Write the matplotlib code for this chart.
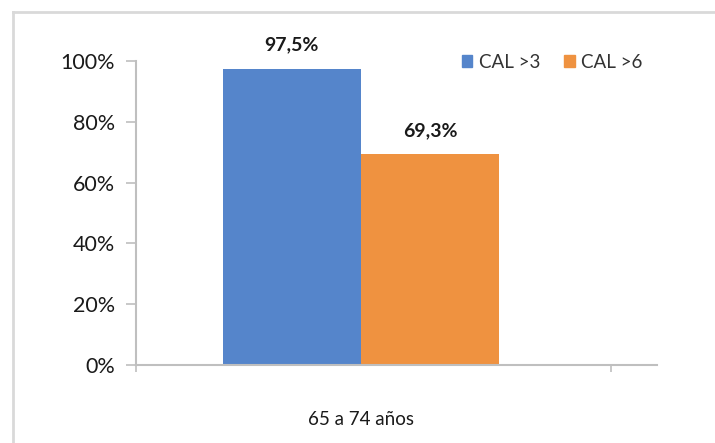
import matplotlib
matplotlib.use('Agg')
import matplotlib.pyplot as plt
from matplotlib.lines import Line2D
from matplotlib.patches import Patch
import numpy as np

# datos
categories = ['65 a 74 años']
series_names = ['CAL >3', 'CAL >6']
cal3 = [97.5]
cal6 = [69.3]
y_ticks = [0, 20, 40, 60, 80, 100]

blue = '#5585cb'
orange = '#ef9240'
grey = '#bfbfbf'

plt.rcParams['font.family'] = ['Lato', 'DejaVu Sans']

fig = plt.figure(figsize=(7.15, 4.43), dpi=100)
ax = fig.add_axes([136 / 715, (443 - 365) / 443, (657 - 136) / 715, (365 - 61) / 443])

w = 0.4
x = np.arange(len(categories))
b1 = ax.bar(x - w / 2, cal3, w, color=blue, label=series_names[0])
b2 = ax.bar(x + w / 2, cal6, w, color=orange, label=series_names[1])

for bars, vals in ((b1, cal3), (b2, cal6)):
    for rect, v in zip(bars, vals):
        ax.annotate(f"{v:.1f}%".replace('.', ','),
                    (rect.get_x() + rect.get_width() / 2, v),
                    xytext=(0, 17), textcoords='offset points',
                    ha='center', va='center', fontsize=14, fontweight='bold',
                    color='#1a1a1a')

xl, xr = -0.65, 0.855
ax.set_xlim(xl, xr)
ax.set_ylim(0, 100)
ax.set_yticks(y_ticks)
ax.set_yticklabels([f"{t}%" for t in y_ticks], fontsize=15.5, color='#1a1a1a')
ax.set_xticks([xl, 0.722])
ax.set_xticklabels([])
ax.tick_params(axis='y', length=7, width=1.2, color=grey, pad=8)
ax.tick_params(axis='x', length=5, width=1.2, color=grey)

for c, cat in zip(x, categories):
    ax.annotate(cat, (c, 0), xycoords=('data', 'axes fraction'),
                xytext=(0, -39), textcoords='offset points',
                ha='center', va='center', fontsize=13.5, color='#1a1a1a')

for s in ('top', 'right'):
    ax.spines[s].set_visible(False)
for s in ('left', 'bottom'):
    ax.spines[s].set_color(grey)
    ax.spines[s].set_linewidth(1.5)

handles = [Patch(color=blue), Patch(color=orange)]
leg = ax.legend(handles, series_names, loc='upper right', bbox_to_anchor=(1.005, 1.08),
                ncol=2, frameon=False, fontsize=13.5, handlelength=0.55, handleheight=0.55,
                handletextpad=0.35, columnspacing=1.3)
for t in leg.get_texts():
    t.set_color('#333333')

# marco gris
fig.add_artist(Line2D([13 / 715, 13 / 715], [0, 1 - 12 / 443], color='#d9d9d9', lw=2))
fig.add_artist(Line2D([13 / 715, 1], [1 - 12 / 443, 1 - 12 / 443], color='#d9d9d9', lw=2))

fig.savefig('out.png', dpi=100)
